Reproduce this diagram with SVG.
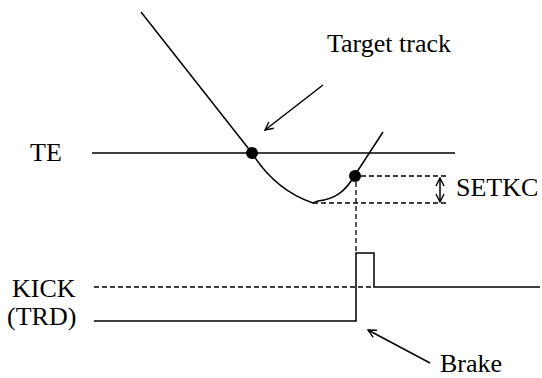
<svg xmlns="http://www.w3.org/2000/svg" width="542" height="378" viewBox="0 0 542 378">
<style>
.t{font-family:"Liberation Serif","DejaVu Serif",serif;font-size:26px;fill:#000}
.s{fill:none;stroke:#000;stroke-width:1.5}
.d{fill:none;stroke:#000;stroke-width:1.3;stroke-dasharray:5 3}
</style>
<defs>
<marker id="ah" viewBox="0 0 10 10" refX="9" refY="5" markerWidth="10" markerHeight="10" markerUnits="userSpaceOnUse" orient="auto-start-reverse">
<path d="M1,1 L9,5 L1,9" fill="none" stroke="#000" stroke-width="1.4"/>
</marker>
</defs>
<rect width="542" height="378" fill="#fff"/>
<g id="te">
<text class="t" x="30" y="161" font-family="Liberation Serif, serif">TE</text>
<line class="s" x1="92" y1="153" x2="455" y2="153"/>
</g>
<g id="track">
<path class="s" d="M141,12 L252,153 Q275,190 313,203 L318,201 C335,199 345,192 355,175 L383,132"/>
<circle cx="252" cy="153" r="6" fill="#000"/>
<circle cx="355" cy="176" r="6" fill="#000"/>
</g>
<g id="target-label">
<text class="t" x="327" y="52">Target track</text>
</g>
<g id="setkc">
<line class="d" x1="361" y1="176" x2="448" y2="176"/>
<line class="d" x1="313" y1="203" x2="448" y2="203"/>
<text class="t" x="456" y="196">SETKC</text>
</g>
<g id="kick">
<text class="t" x="12" y="297">KICK</text>
<text class="t" x="7" y="325">(TRD)</text>
<line class="d" x1="94" y1="287" x2="374" y2="287"/>
<polyline class="s" points="94,321 356,321 356,253 374,253 374,287 540,287"/>
</g>
<g id="brake-label">
<text class="t" x="440" y="372">Brake</text>
</g>
<g id="connectors">
<line class="s" x1="323" y1="85" x2="265" y2="130" marker-end="url(#ah)"/>
<line class="s" x1="430" y1="363" x2="368" y2="330" marker-end="url(#ah)"/>
<line class="s" x1="440" y1="178" x2="440" y2="202" stroke-width="1.2" marker-start="url(#ah)" marker-end="url(#ah)"/>
<line class="d" x1="356" y1="182" x2="356" y2="253"/>
</g>
</svg>
